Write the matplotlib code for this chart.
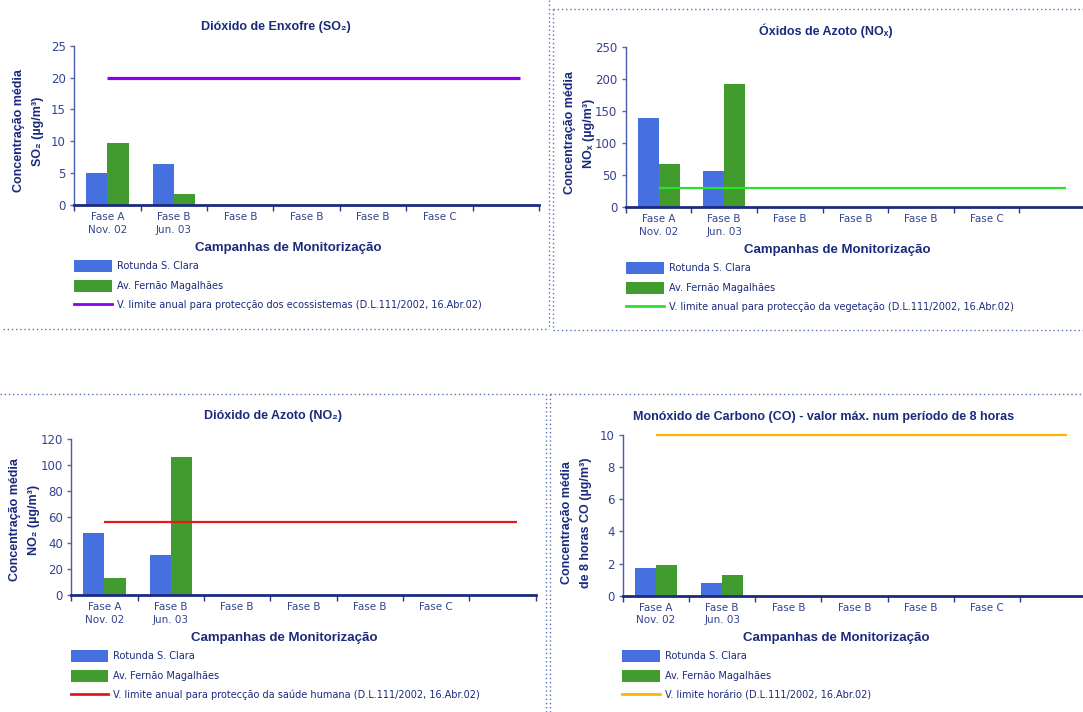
import matplotlib.pyplot as plt
from matplotlib.lines import Line2D
from matplotlib.patches import Patch

# --- dados das campanhas ---
categorias = ["Fase A\nNov. 02", "Fase B\nJun. 03", "Fase B", "Fase B", "Fase B", "Fase C", ""]
estacoes = ["Rotunda S. Clara", "Av. Fernão Magalhães"]

so2_rotunda = [5.1, 6.5]
so2_fernao = [9.8, 1.8]
so2_limite = 20

nox_rotunda = [140, 57]
nox_fernao = [67, 193]
nox_limite = 30

no2_rotunda = [48, 31]
no2_fernao = [13, 106]
no2_limite = 56

co_rotunda = [1.7, 0.8]
co_fernao = [1.9, 1.3]
co_limite = 10

W, H = 1083, 712
AZUL = "#4670e0"
VERDE = "#429b2e"
NAVY = "#1a2a7c"
TICK = "#33448f"
FONTE = ["Liberation Sans", "DejaVu Sans"]

fig = plt.figure(figsize=(W / 100, H / 100), dpi=100)
fig.patch.set_facecolor("white")


def fx(x):
    return x / W


def fy(y):
    return 1 - y / H


def grafico(caixa, rotunda, fernao, limite, cor_lim, lw_lim, ymax, ystep,
            titulo, tit_xy, ylab, ylab_x, ylab_y, xlab_xy, leg_xy, leg_lim):
    left, top, right, bottom = caixa
    ax = fig.add_axes([fx(left), fy(bottom), (right - left) / W, (bottom - top) / H])
    n = len(categorias)
    pos = list(range(len(rotunda)))
    larg = 0.32
    ax.bar([p - larg / 2 for p in pos], rotunda, width=larg, color=AZUL, zorder=2)
    ax.bar([p + larg / 2 for p in pos], fernao, width=larg, color=VERDE, zorder=2)
    ax.hlines(limite, 0, n - 0.79, color=cor_lim, lw=lw_lim, zorder=3, clip_on=False)

    ax.set_xlim(-0.5, n - 0.5)
    ax.set_ylim(0, ymax)
    ax.set_yticks([v * ystep for v in range(int(ymax / ystep) + 1)])
    ax.set_xticks([i - 0.5 for i in range(n + 1)])
    ax.set_xticklabels([])
    ax.set_xticks(range(n), minor=True)
    ax.set_xticklabels(categorias, minor=True, fontsize=7.5, color=TICK,
                       linespacing=1.35, family="DejaVu Sans")
    ax.tick_params(axis="x", which="minor", length=0, pad=5)
    ax.tick_params(axis="x", which="major", length=4, width=1, color="#2a3a8a")
    ax.tick_params(axis="y", length=3, width=1, color="#5a6aa8", labelsize=8.5,
                   labelcolor=TICK, pad=3)
    for t in ax.get_yticklabels():
        t.set_family("DejaVu Sans")
    for s in ("top", "right"):
        ax.spines[s].set_visible(False)
    ax.spines["left"].set_color("#4a5ca6")
    ax.spines["left"].set_linewidth(1)
    ax.spines["bottom"].set_color("#1c2a80")
    ax.spines["bottom"].set_linewidth(2)
    ax.set_facecolor("none")

    fig.text(fx(tit_xy[0]), fy(tit_xy[1]), titulo, ha="center", va="center",
             fontsize=9, fontweight="bold", color=NAVY, family=FONTE)
    fig.text(fx(ylab_x[0]), fy(ylab_y), "Concentração média", rotation=90,
             ha="center", va="center", fontsize=9, fontweight="bold", color=NAVY, family=FONTE)
    fig.text(fx(ylab_x[1]), fy(ylab_y), ylab, rotation=90,
             ha="center", va="center", fontsize=9, fontweight="bold", color=NAVY, family=FONTE)
    fig.text(fx(xlab_xy[0]), fy(xlab_xy[1]), "Campanhas de Monitorização",
             ha="center", va="center", fontsize=9.5, fontweight="bold", color=NAVY, family=FONTE)

    handles = [Patch(facecolor=AZUL), Patch(facecolor=VERDE),
               Line2D([], [], color=cor_lim, lw=2)]
    leg = ax.legend(handles, estacoes + [leg_lim], loc="upper left",
                    bbox_to_anchor=(fx(leg_xy[0]), fy(leg_xy[1])),
                    bbox_transform=fig.transFigure, frameon=False, fontsize=7,
                    handlelength=3.9, handleheight=1.52, handletextpad=0.5,
                    labelspacing=0.78, borderpad=0, borderaxespad=0)
    for t in leg.get_texts():
        t.set_color(NAVY)
        t.set_family("DejaVu Sans")
    return ax


grafico((74.3, 45.7, 539, 205), so2_rotunda, so2_fernao, so2_limite, "#8a00f0", 2.3, 25, 5,
        "Dióxido de Enxofre (SO₂)", (276, 27), "SO₂ (µg/m³)", (19, 38), 131,
        (288, 248), (74, 260),
        "V. limite anual para protecção dos ecossistemas (D.L.111/2002, 16.Abr.02)")

grafico((625.7, 47.3, 1085, 207.3), nox_rotunda, nox_fernao, nox_limite, "#2ee02e", 1.6, 250, 50,
        "Óxidos de Azoto (NOₓ)", (826, 31), "NOₓ (µg/m³)", (570, 589), 133,
        (837, 250), (626, 262),
        "V. limite anual para protecção da vegetação (D.L.111/2002, 16.Abr.02)")

grafico((71.2, 439.3, 535.8, 595), no2_rotunda, no2_fernao, no2_limite, "#e81818", 1.6, 120, 20,
        "Dióxido de Azoto (NO₂)", (273, 416), "NO₂ (µg/m³)", (15, 34), 520,
        (284, 638), (70.5, 650),
        "V. limite anual para protecção da saúde humana (D.L.111/2002, 16.Abr.02)")

grafico((623, 435, 1086, 595.7), co_rotunda, co_fernao, co_limite, "#ffb400", 1.6, 10, 2,
        "Monóxido de Carbono (CO) - valor máx. num período de 8 horas", (824, 417),
        "de 8 horas CO (µg/m³)", (567, 586), 523,
        (836, 638), (622, 650),
        "V. limite horário (D.L.111/2002, 16.Abr.02)")

# molduras pontilhadas entre os painéis
molduras = [
    ((548.7, 548.7), (0, 329)),
    ((3, 548.7), (329, 329)),
    ((553.3, 1083), (8.7, 8.7)),
    ((553.3, 553.3), (8.7, 329.7)),
    ((553.3, 1083), (329.7, 329.7)),
    ((0, 545.5), (393.7, 393.7)),
    ((545.5, 545.5), (393.7, 712)),
    ((549.7, 1083), (394.3, 394.3)),
    ((549.7, 549.7), (394.3, 712)),
]
for xs, ys in molduras:
    fig.add_artist(Line2D([fx(x) for x in xs], [fy(y) for y in ys], transform=fig.transFigure,
                          color="#3050a8", lw=1, ls=(0, (1, 2)), alpha=0.8))

fig.savefig("out.png", dpi=100)
